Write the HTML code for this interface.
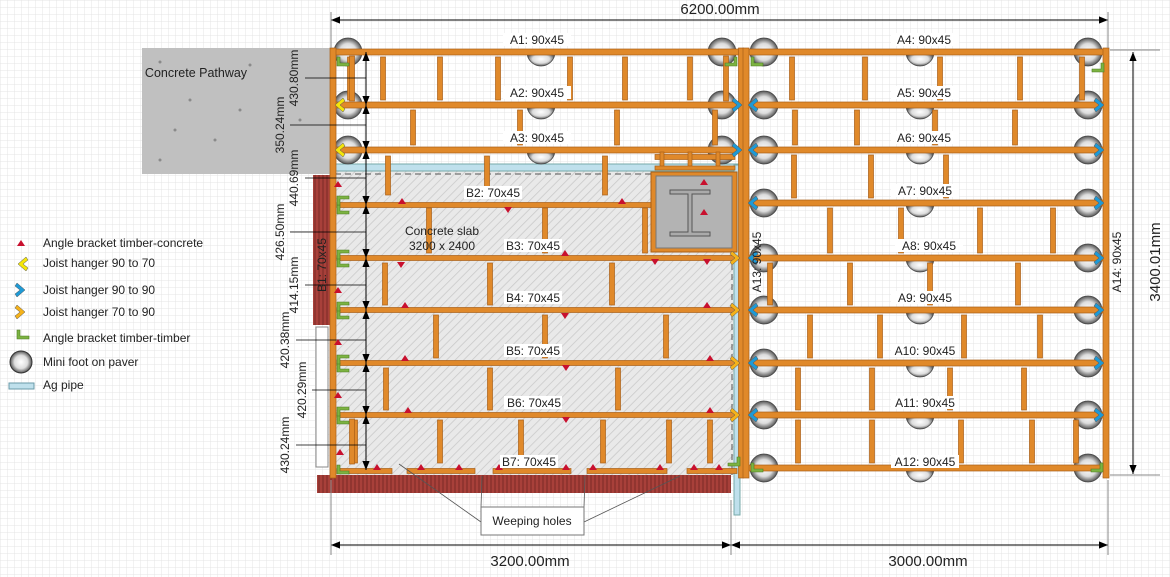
<!DOCTYPE html>
<html><head><meta charset="utf-8"><style>
html,body{margin:0;padding:0;background:#fff}
svg{display:block}
text{font-family:"Liberation Sans",sans-serif;fill:#222}
</style></head><body>
<svg id="s" width="1170" height="577" viewBox="0 0 1170 577" xmlns="http://www.w3.org/2000/svg">
<defs>
<pattern id="grid" width="7" height="7" patternUnits="userSpaceOnUse"><path d="M7 0H0V7" fill="none" stroke="#e4e4e4" stroke-width="1"/></pattern>
<pattern id="hatch" width="6" height="6" patternUnits="userSpaceOnUse" patternTransform="rotate(45)"><rect width="6" height="6" fill="#e9e9e9"/><line x1="0" y1="0" x2="0" y2="6" stroke="#c8c8c8" stroke-width="1.5"/></pattern>
<pattern id="brick" width="4" height="10" patternUnits="userSpaceOnUse"><rect width="4" height="10" fill="#a8403a"/><line x1="3" y1="0" x2="3" y2="10" stroke="#7a2a26" stroke-width="1"/></pattern>
<radialGradient id="ball" cx="50%" cy="50%" r="50%"><stop offset="0" stop-color="#fff"/><stop offset="0.6" stop-color="#ddd"/><stop offset="1" stop-color="#555"/></radialGradient>
<marker id="ah" viewBox="0 0 10 10" refX="10" refY="5" markerWidth="9" markerHeight="9" orient="auto-start-reverse"><path d="M0 1L10 5L0 9z" fill="#000"/></marker>
</defs>
<rect width="1170" height="577" fill="url(#grid)"/>
<g id="bg"></g>
<g id="g"></g>
<g id="fg"></g>
<g font-size="12" text-anchor="middle">
<text x="720" y="14" font-size="15">6200.00mm</text>
<text x="530" y="566" font-size="15">3200.00mm</text>
<text x="928" y="566" font-size="15">3000.00mm</text>
<text transform="translate(1160,262) rotate(-90)" font-size="15">3400.01mm</text>
</g>
<g font-size="12" text-anchor="middle">
<g fill="#fff"><rect x="503" y="33" width="68" height="13" fill="#fff"/><rect x="503" y="86" width="68" height="13" fill="#fff"/><rect x="503" y="131" width="68" height="13" fill="#fff"/>
<rect x="891" y="33" width="68" height="13" fill="#fff"/><rect x="891" y="86" width="68" height="13" fill="#fff"/><rect x="891" y="131" width="68" height="13" fill="#fff"/><rect x="891" y="184" width="68" height="13" fill="#fff"/><rect x="895" y="239" width="68" height="13" fill="#fff"/><rect x="891" y="291" width="68" height="13" fill="#fff"/><rect x="891" y="344" width="68" height="13" fill="#fff"/><rect x="891" y="396" width="68" height="13" fill="#fff"/><rect x="891" y="455" width="68" height="13" fill="#fff"/>
<rect x="464" y="186" width="58" height="13" fill="#fff"/><rect x="504" y="239" width="58" height="13" fill="#fff"/><rect x="504" y="291" width="58" height="13" fill="#fff"/><rect x="504" y="344" width="58" height="13" fill="#fff"/><rect x="504" y="396" width="58" height="13" fill="#fff"/><rect x="500" y="455" width="58" height="13" fill="#fff"/></g>
<text x="537" y="44">A1: 90x45</text><text x="537" y="97">A2: 90x45</text><text x="537" y="142">A3: 90x45</text>
<text x="924" y="44">A4: 90x45</text><text x="924" y="97">A5: 90x45</text><text x="924" y="142">A6: 90x45</text><text x="925" y="195">A7: 90x45</text><text x="929" y="250">A8: 90x45</text><text x="925" y="302">A9: 90x45</text><text x="925" y="355">A10: 90x45</text><text x="925" y="407">A11: 90x45</text><text x="925" y="466">A12: 90x45</text>
<text x="493" y="197">B2: 70x45</text><text x="533" y="250">B3: 70x45</text><text x="533" y="302">B4: 70x45</text><text x="533" y="355">B5: 70x45</text><text x="534" y="407">B6: 70x45</text><text x="529" y="466">B7: 70x45</text>
<text x="442" y="235">Concrete slab</text><text x="442" y="250">3200 x 2400</text>
<text transform="translate(326,265) rotate(-90)">B1: 70x45</text>
<text transform="translate(761,262) rotate(-90)">A13: 90x45</text>
<text transform="translate(1121,262) rotate(-90)">A14: 90x45</text>
<text x="196" y="77" font-size="12.5">Concrete Pathway</text>
</g>
<g font-size="12" text-anchor="middle">
<text transform="translate(298,78) rotate(-90)">430.80mm</text>
<text transform="translate(284,125) rotate(-90)">350.24mm</text>
<text transform="translate(298,178) rotate(-90)">440.69mm</text>
<text transform="translate(284,232) rotate(-90)">426.50mm</text>
<text transform="translate(298,285) rotate(-90)">414.15mm</text>
<text transform="translate(289,340) rotate(-90)">420.38mm</text>
<text transform="translate(306,390) rotate(-90)">420.29mm</text>
<text transform="translate(289,445) rotate(-90)">430.24mm</text>
</g>
<rect x="481" y="507" width="103" height="28" fill="#fff" stroke="#777"/>
<text x="532" y="525" font-size="12" text-anchor="middle">Weeping holes</text>
<g font-size="12">
<text x="43" y="247">Angle bracket timber-concrete</text>
<text x="43" y="267">Joist hanger 90 to 70</text>
<text x="43" y="294">Joist hanger 90 to 90</text>
<text x="43" y="316">Joist hanger 70 to 90</text>
<text x="43" y="342">Angle bracket timber-timber</text>
<text x="43" y="366">Mini foot on paver</text>
<text x="43" y="389">Ag pipe</text>
</g>
</svg>
<script>
const NS="http://www.w3.org/2000/svg";
function el(p,t,a){const e=document.createElementNS(NS,t);for(const k in a)e.setAttribute(k,a[k]);document.getElementById(p).appendChild(e);return e;}
const OR="#e0892a",OS="#a95e18";
el("bg","rect",{x:142,y:48,width:189,height:126,fill:"#c0c0c0"});
[[160,62],[250,65],[190,100],[215,140],[160,160],[300,120],[240,110],[175,130]].forEach(p=>el("bg","circle",{cx:p[0],cy:p[1],r:1.5,fill:"#8a8a8a"}));
el("bg","rect",{x:335,y:170,width:402,height:305,fill:"url(#hatch)"});
el("bg","line",{x1:335,y1:174,x2:737,y2:174,stroke:"#555","stroke-dasharray":"6 4"});
el("bg","line",{x1:732,y1:174,x2:732,y2:475,stroke:"#555","stroke-dasharray":"6 4"});
el("bg","rect",{x:313,y:175,width:18,height:150,fill:"url(#brick)"});
el("bg","rect",{x:317,y:475,width:414,height:18,fill:"url(#brick)"});
el("bg","rect",{x:316,y:327,width:12,height:140,fill:"#fff",stroke:"#888"});
el("bg","rect",{x:335,y:164,width:405,height:7,fill:"#bfe0ec",stroke:"#7aa"});
el("bg","rect",{x:734,y:165,width:6,height:350,fill:"#bfe0ec",stroke:"#7aa"});
function ball(x,y){el("bg","circle",{cx:x,cy:y,r:14,fill:"url(#ball)",stroke:"#444","stroke-width":0.8});}
function half(x,y){el("bg","path",{d:`M${x-14} ${y}a14 14 0 0 0 28 0z`,fill:"url(#ball)",stroke:"#444","stroke-width":0.8});}
[52,105,150].forEach(y=>{ball(348,y);ball(722,y);half(541,y);});
[52,105,150,203,258,310,363,415,468].forEach(y=>{ball(764,y);ball(1088,y);half(920,y);});
function hb(x1,x2,y,w){el("g","rect",{x:x1,y:y-w/2,width:x2-x1,height:w,fill:OR,stroke:OS,"stroke-width":0.7});}
function vb(x,y1,y2,w){el("g","rect",{x:x-w/2,y:y1,width:w,height:y2-y1,fill:OR,stroke:OS,"stroke-width":0.7});}
const blk=[[52,105,[350,383,440,498,570,625,690,792,865,940,1020,1082]],[105,150,[413,520,617,715,795,857,935,1015]],[150,203,[388,487,605,794,871,946]],[203,258,[429,545,645,830,901,980,1053]],[258,310,[385,490,612,770,850,930,1018]],[310,363,[436,545,666,810,880,964,1040]],[363,415,[386,490,618,798,872,950,1024]],[415,468,[355,440,521,603,669,710,798,872,961,1032,1076]]];
blk.forEach(b=>b[2].forEach(x=>{if(x<740&&b[0]>=150&&b[0]<170){vb(x,b[0]+6,b[1]-8,5)}else vb(x,b[0]+5,b[1]-5,5);}));
[[52,105,348],[52,105,722],[415,468,348]].forEach(b=>vb(b[2]+4,b[0]+4,b[1]-4,5));
[52,105,150].forEach(y=>hb(335,740,y,6));
[52,105,150,203,258,310,363,415,468].forEach(y=>hb(746,1106,y,6));
[205,258,310,363,415].forEach(y=>hb(337,737,y,5));
[[337,392],[407,475],[493,571],[587,667],[687,737]].forEach(s=>hb(s[0],s[1],471,5));
vb(333,48,478,6);vb(741,48,478,5);vb(746,48,478,6);vb(1106,48,478,6);
el("g","rect",{x:651,y:172,width:86,height:80,fill:OR,stroke:OS});
el("g","rect",{x:656,y:176,width:76,height:72,fill:"#b3b3b3",stroke:"#777"});
el("g","path",{d:"M670 190h40v4h-18v38h18v4h-40v-4h18v-38h-18z",fill:"#aaa",stroke:"#555"});
hb(655,735,157,5);[662,690,718].forEach(x=>vb(x,152,168,4));hb(655,735,168,4);
const dy=[52,105,150,205,258,310,363,415,470];
for(let i=0;i<dy.length-1;i++){el("fg","line",{x1:366,y1:dy[i],x2:366,y2:dy[i+1],stroke:"#000","marker-start":"url(#ah)","marker-end":"url(#ah)"});}
[78,125,178,232,285,340,390,445].forEach((y,i)=>el("fg","line",{x1:[305,290,305,290,305,296,312,296][i],y1:y,x2:366,y2:y,stroke:"#000","stroke-width":0.8}));
el("fg","line",{x1:331,y1:20,x2:1108,y2:20,stroke:"#000","marker-start":"url(#ah)","marker-end":"url(#ah)"});
el("fg","line",{x1:331,y1:545,x2:731,y2:545,stroke:"#000","marker-start":"url(#ah)","marker-end":"url(#ah)"});
el("fg","line",{x1:731,y1:545,x2:1108,y2:545,stroke:"#000","marker-start":"url(#ah)","marker-end":"url(#ah)"});
el("fg","line",{x1:1133,y1:52,x2:1133,y2:474,stroke:"#000","marker-start":"url(#ah)","marker-end":"url(#ah)"});
[[331,12,331,48],[1108,12,1108,48],[331,480,331,555],[731,500,731,555],[1108,480,1108,555]].forEach(l=>el("fg","line",{x1:l[0],y1:l[1],x2:l[2],y2:l[3],stroke:"#888"}));
[[1110,50,1160,50],[1110,475,1160,475]].forEach(l=>el("fg","line",{x1:l[0],y1:l[1],x2:l[2],y2:l[3],stroke:"#888"}));
[[481,522,399,464],[481,507,482,476],[584,507,585,476],[584,522,680,476]].forEach(l=>el("fg","line",{x1:l[0],y1:l[1],x2:l[2],y2:l[3],stroke:"#555","stroke-width":0.8}));
function tri(x,y,down){el("fg","path",{d:down?`M${x-4} ${y-3}h8l-4 6z`:`M${x-4} ${y+3}h8l-4-6z`,fill:"#c8102e"});}
[[402,201,0],[508,210,1],[622,201,0],[338,184,0],[704,182,0],[401,265,1],[565,253,0],[655,262,1],[707,262,1],[405,305,0],[565,316,1],[707,305,0],[405,358,0],[566,368,1],[710,358,0],[408,410,0],[566,420,1],[710,410,0],[340,452,0],[377,467,0],[421,467,0],[459,467,0],[499,467,0],[566,467,0],[593,467,0],[660,467,0],[694,467,0],[719,467,0],[338,290,0],[338,342,0],[338,395,0],[704,212,0]].forEach(t=>tri(t[0],t[1],t[2]));
function Lb(x,y,flip,up){const sx=flip?-1:1,sy=up?-1:1;el("fg","path",{d:`M${x} ${y}v${-9*sy}h${3*sx}v${6*sy}h${9*sx}v${3*sy}z`,fill:"#7cb342",stroke:"#4a7a20","stroke-width":0.6});}
[[337,66,0,0],[337,214,0,0],[337,267,0,0],[337,319,0,0],[337,372,0,0],[337,424,0,0],[337,474,0,0],[737,66,1,0],[751,66,0,0],[1104,72,1,0],[1103,472,1,0],[751,472,0,0],[740,466,1,0]].forEach(a=>Lb(a[0],a[1],a[2],a[3]));
[[337,196],[337,250],[337,302],[337,355],[337,407]].forEach(a=>Lb(a[0],a[1],0,1));
function chev(x,y,dir,col,s){s=s||1;const d=dir>0?`M${x-5*s} ${y-7*s}l${8*s} ${7*s}l${-8*s} ${7*s}l${-2*s} ${-3*s}l${5*s} ${-4*s}l${-5*s} ${-4*s}z`:`M${x+5*s} ${y-7*s}l${-8*s} ${7*s}l${8*s} ${7*s}l${2*s} ${-3*s}l${-5*s} ${-4*s}l${5*s} ${-4*s}z`;el("fg","path",{d:d,fill:col,stroke:"#555","stroke-width":0.5});}
const Y="#f5e60a",B="#1e9ad6",O="#f5b21a";
chev(338,105,-1,Y);chev(338,150,-1,Y);
[105,150].forEach(y=>{chev(739,y,1,B);chev(751,y,-1,B);});
[203,258,310,363,415].forEach(y=>chev(751,y,-1,B));
[105,150,203,258,310,363,415].forEach(y=>chev(1101,y,1,B));
[258,310,363,415].forEach(y=>chev(737,y,1,O));
tri(21,243,0);chev(21,264,-1,Y);chev(22,290,1,B);chev(22,312,1,O);
Lb(17,339,0,0);
el("fg","circle",{cx:21,cy:362,r:11,fill:"url(#ball)",stroke:"#333"});
el("fg","rect",{x:9,y:383,width:25,height:6,fill:"#bfe0ec",stroke:"#6a9aa8"});
</script>
</body></html>
